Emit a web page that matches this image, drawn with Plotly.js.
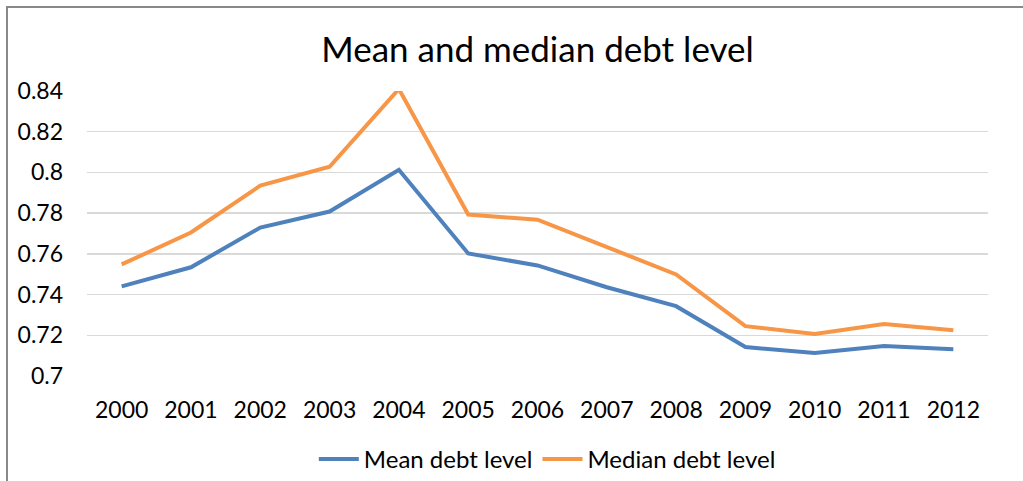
<!DOCTYPE html>
<html>
<head>
<meta charset="utf-8">
<script src="https://cdn.plot.ly/plotly-3.0.1.min.js"></script>
<style>
  html, body { margin: 0; padding: 0; background: #fff; }
  #wrap { position: relative; width: 1023px; height: 481px; overflow: hidden; }
  #chart { position: absolute; left: 0; top: 0; width: 1023px; height: 481px; }
  #frame { position: absolute; left: 6px; top: 6px; width: 1100px; height: 600px;
           border-left: 2px solid #888; border-top: 2px solid #888; pointer-events: none; }
</style>
</head>
<body>
<div id="wrap">
  <div id="chart"></div>
  <div id="frame"></div>
</div>
<script>
const years = ["2000","2001","2002","2003","2004","2005","2006","2007","2008","2009","2010","2011","2012"];
const meanDebt = [0.744, 0.7534, 0.7729, 0.7808, 0.8013, 0.7602, 0.7543, 0.7436, 0.7343, 0.7142, 0.7113, 0.7147, 0.7132];
const medianDebt = [0.7548, 0.7705, 0.7935, 0.8028, 0.8410, 0.7793, 0.7768, 0.7636, 0.7499, 0.7245, 0.7206, 0.7255, 0.7225];
const yTicks = [0.7, 0.72, 0.74, 0.76, 0.78, 0.8, 0.82, 0.84];
const yTickText = ["0.7", "0.72", "0.74", "0.76", "0.78", "0.8", "0.82", "0.84"];

const font = "Lato, 'Open Sans', sans-serif";

const traces = [
  { x: years, y: meanDebt, type: "scatter", mode: "lines", name: "Mean debt level",
    line: { color: "#4f81bd", width: 4 }, cliponaxis: false },
  { x: years, y: medianDebt, type: "scatter", mode: "lines", name: "Median debt level",
    line: { color: "#f79646", width: 4 }, cliponaxis: false }
];

const layout = {
  width: 1023, height: 481,
  margin: { l: 87, r: 35, t: 91, b: 105 },
  paper_bgcolor: "rgba(0,0,0,0)", plot_bgcolor: "#fff",
  font: { family: font, color: "#000" },
  title: { text: "Mean and median debt level", font: { family: font, size: 35, color: "#000" },
           x: 0.5, xref: "paper", xanchor: "center", y: 1, yref: "container", yanchor: "top", pad: { t: 37 } },
  xaxis: { type: "category", range: [-0.5, 12.5], showgrid: false, zeroline: false, showline: false,
           ticks: "", tickfont: { family: font, size: 23, color: "#000" }, fixedrange: true, ticklabelstandoff: 18 },
  yaxis: { range: [0.7, 0.84], tickvals: yTicks, ticktext: yTickText, showgrid: true,
           gridcolor: "#d9d9d9", gridwidth: 1.5, zeroline: false, showline: false, ticks: "",
           tickfont: { family: font, size: 23, color: "#000" }, ticklabelstandoff: 23, fixedrange: true },
  showlegend: true,
  legend: { orientation: "h", x: 0.535, xanchor: "center", xref: "container",
            y: 0.045, yanchor: "middle", yref: "container",
            font: { family: font, size: 24, color: "#000" }, itemwidth: 40, tracegroupgap: 0 }
};

Plotly.newPlot("chart", traces, layout, { displayModeBar: false, staticPlot: true });
</script>
</body>
</html>
